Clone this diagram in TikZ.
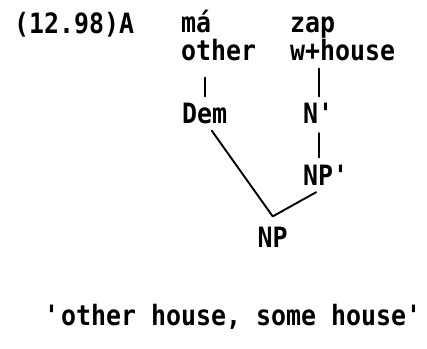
\documentclass[tikz,border=0pt]{standalone}
\usepackage{fontspec}
\setmonofont{DejaVu Sans Mono}[FakeStretch=0.89]
\usetikzlibrary{calc}

\begin{document}
\begin{tikzpicture}[x=1pt,y=-1pt,line cap=round,line join=round,
    word/.style={font=\ttfamily\bfseries\fontsize{28}{30}\selectfont,inner sep=0pt,anchor=base west},
    branch/.style={line width=1.9pt}]
  \useasboundingbox (0,0) rectangle (427,348);

  % Example number and the words with their glosses
  \node[word] (num) at (14,33) {(12.98)A};
  \node[word] (ma) at (181,32) {má};
  \node[word] (oth) at (181,60) {other};
  \node[word] (zap) at (290,32) {zap};
  \node[word] (wh) at (290,60) {w+house};

  % Categories
  \node[word] (Dem) at (182,123) {Dem};
  \node[word] (Np) at (303,123) {N\textquotesingle};
  \node[word] (NPp) at (303,185) {NP\textquotesingle};
  \node[word] (NP) at (257.5,247) {NP};

  % Branches
  \draw[branch,shorten <=6,shorten >=17] (Dem.north) -- (Dem.north |- oth.south);
  \draw[branch,shorten <=6,shorten >=8] (Np.north) -- (Np.north |- wh.south);
  \draw[branch,shorten <=10,shorten >=7] (Np.south) -- (Np.south |- NPp.north);
  \draw[branch] ([shift={(7,7)}]Dem.south) -- ([shift={(0,-10)}]NP.north)
    -- ([shift={(-10.5,7)}]NPp.south);

  % Translation
  \node[word] (trans) at (44,325) {\textquotesingle other house, some house\textquotesingle};
\end{tikzpicture}
\end{document}
